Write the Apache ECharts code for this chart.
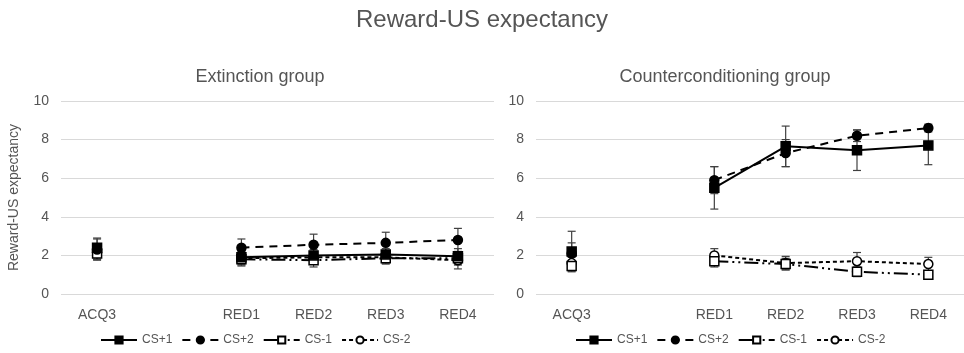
<!DOCTYPE html>
<html>
<head>
<meta charset="utf-8">
<script src="https://cdn.jsdelivr.net/npm/echarts@6/dist/echarts.min.js"></script>
<style>html,body{margin:0;padding:0;background:#fff}#c{width:964px;height:353px}</style>
</head>
<body>
<div id="c"></div>
<script>
const categories = ['ACQ3', '', 'RED1', 'RED2', 'RED3', 'RED4'];
const yTicks = [0, 2, 4, 6, 8, 10];
const seriesNames = ['CS+1', 'CS+2', 'CS-1', 'CS-2'];

// Extinction group: means and error (±)
const extCSp1 = [2.4, null, 1.9, 2.0, 2.05, 1.95];
const extCSp1Err = [0.5, null, 0.35, 0.3, 0.3, 0.4];
const extCSp2 = [2.3, null, 2.4, 2.55, 2.65, 2.8];
const extCSp2Err = [0.55, null, 0.45, 0.55, 0.55, 0.6];
const extCSm1 = [2.1, null, 1.8, 1.75, 1.85, 1.85];
const extCSm1Err = [0.3, null, 0.35, 0.35, 0.3, 0.35];
const extCSm2 = [2.15, null, 1.85, 1.9, 1.9, 1.75];
const extCSm2Err = [0.35, null, 0.35, 0.3, 0.3, 0.45];

// Counterconditioning group
const ccCSp1 = [2.2, null, 5.5, 7.65, 7.45, 7.7];
const ccCSp1Err = [1.05, null, 1.1, 1.05, 1.05, 1.0];
const ccCSp2 = [2.1, null, 5.9, 7.3, 8.2, 8.6];
const ccCSp2Err = [0.55, null, 0.7, 0.7, 0.3, 0.2];
const ccCSm1 = [1.45, null, 1.7, 1.55, 1.15, 1.0];
const ccCSm1Err = [0.25, null, 0.3, 0.3, 0.25, 0.2];
const ccCSm2 = [1.6, null, 2.0, 1.6, 1.7, 1.55];
const ccCSm2Err = [0.3, null, 0.35, 0.35, 0.45, 0.35];

const styles = {
  'CS+1': {symbol: 'rect', fill: '#000', dash: 'solid'},
  'CS+2': {symbol: 'circle', fill: '#000', dash: [8, 6]},
  'CS-1': {symbol: 'rect', fill: '#fff', dash: [14, 4, 2, 4, 2, 4]},
  'CS-2': {symbol: 'circle', fill: '#fff', dash: [4, 3]}
};

const txt = '#555555';
const font = 'Liberation Sans';

function lineSeries(name, vals, idx) {
  const s = styles[name];
  return {
    name: name, type: 'line', xAxisIndex: idx, yAxisIndex: idx,
    data: vals.map(v => v === null ? '-' : v),
    connectNulls: false,
    symbol: s.symbol, symbolSize: 9,
    lineStyle: {color: '#000', width: 2, type: s.dash},
    itemStyle: {color: s.fill, borderColor: '#000', borderWidth: 1.5},
    z: 3
  };
}

function errSeries(vals, errs, idx) {
  const data = [];
  vals.forEach((v, i) => { if (v !== null) data.push([i, v - errs[i], v + errs[i]]); });
  return {
    type: 'custom', xAxisIndex: idx, yAxisIndex: idx, z: 2, silent: true,
    data: data,
    renderItem: function (params, api) {
      const x = api.value(0);
      const lo = api.coord([x, api.value(1)]);
      const hi = api.coord([x, api.value(2)]);
      const w = 4;
      const st = {stroke: '#404040', lineWidth: 1.2};
      return {type: 'group', children: [
        {type: 'line', shape: {x1: lo[0], y1: lo[1], x2: hi[0], y2: hi[1]}, style: st},
        {type: 'line', shape: {x1: hi[0] - w, y1: hi[1], x2: hi[0] + w, y2: hi[1]}, style: st},
        {type: 'line', shape: {x1: lo[0] - w, y1: lo[1], x2: lo[0] + w, y2: lo[1]}, style: st}
      ]};
    }
  };
}

function xAxis(idx) {
  return {
    type: 'category', gridIndex: idx, data: categories, boundaryGap: true,
    axisLine: {show: false}, axisTick: {show: false},
    axisLabel: {color: txt, fontSize: 14, fontFamily: font, margin: 14, interval: 0}
  };
}
function yAxis(idx, name) {
  return {
    type: 'value', gridIndex: idx, min: 0, max: 10, interval: 2,
    name: name, nameLocation: 'middle', nameGap: 40,
    nameTextStyle: {color: txt, fontSize: 14, fontFamily: font},
    axisLine: {show: false}, axisTick: {show: false},
    axisLabel: {color: txt, fontSize: 14, fontFamily: font, margin: 12,
      formatter: v => yTicks.includes(v) ? String(v) : ''},
    splitLine: {lineStyle: {color: '#d9d9d9', width: 1}}
  };
}

const series = [
  errSeries(extCSp1, extCSp1Err, 0), errSeries(extCSp2, extCSp2Err, 0),
  errSeries(extCSm1, extCSm1Err, 0), errSeries(extCSm2, extCSm2Err, 0),
  errSeries(ccCSp1, ccCSp1Err, 1), errSeries(ccCSp2, ccCSp2Err, 1),
  errSeries(ccCSm1, ccCSm1Err, 1), errSeries(ccCSm2, ccCSm2Err, 1),
  lineSeries('CS-2', extCSm2, 0), lineSeries('CS-1', extCSm1, 0),
  lineSeries('CS+2', extCSp2, 0), lineSeries('CS+1', extCSp1, 0),
  lineSeries('CS-2', ccCSm2, 1), lineSeries('CS-1', ccCSm1, 1),
  lineSeries('CS+2', ccCSp2, 1), lineSeries('CS+1', ccCSp1, 1)
];

const legendBase = {
  data: seriesNames, bottom: 2, itemWidth: 36, itemHeight: 9, itemGap: 9,
  selectedMode: false,
  textStyle: {color: txt, fontSize: 12, fontFamily: font}
};

const chart = echarts.init(document.getElementById('c'), null, {renderer: 'canvas'});
chart.setOption({
  backgroundColor: '#fff',
  animation: false,
  title: [
    {text: 'Reward-US expectancy', left: 'center', top: 3,
      textStyle: {color: txt, fontSize: 24, fontWeight: 'normal', fontFamily: font}},
    {text: 'Extinction group', left: 255, textAlign: 'center', top: 63,
      textStyle: {color: txt, fontSize: 18, fontWeight: 'normal', fontFamily: font}},
    {text: 'Counterconditioning group', left: 720, textAlign: 'center', top: 63,
      textStyle: {color: txt, fontSize: 18, fontWeight: 'normal', fontFamily: font}}
  ],
  legend: [
    Object.assign({}, legendBase, {left: 95}),
    Object.assign({}, legendBase, {left: 570})
  ],
  grid: [
    {left: 61, top: 101, width: 433, height: 193},
    {left: 536, top: 101, width: 432, height: 193}
  ],
  xAxis: [xAxis(0), xAxis(1)],
  yAxis: [yAxis(0, 'Reward-US expectancy'), yAxis(1, '')],
  series: series
});
</script>
</body>
</html>
